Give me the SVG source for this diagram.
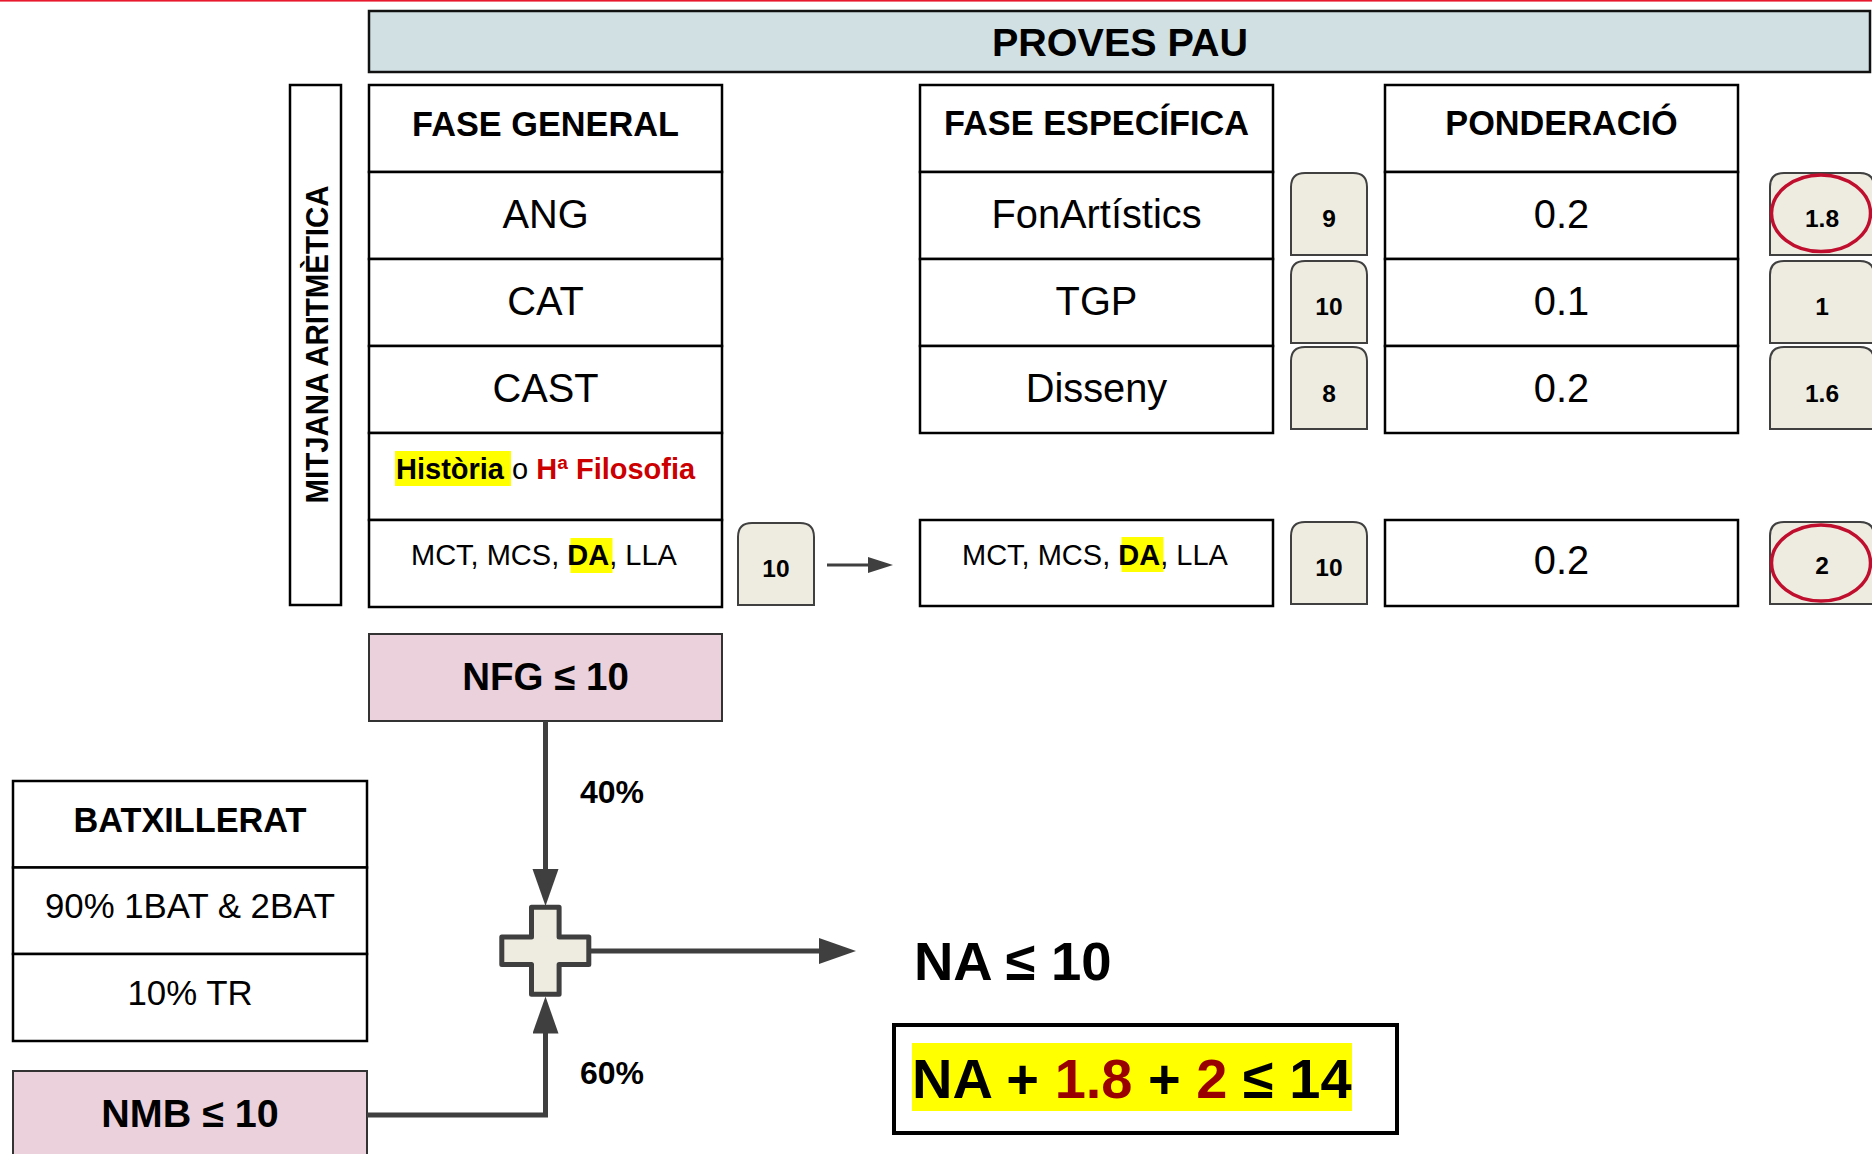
<svg xmlns="http://www.w3.org/2000/svg" xmlns:xlink="http://www.w3.org/1999/xlink" width="1872" height="1154" viewBox="0 0 1872 1154">
<style>
text{font-family:"Liberation Sans",Arial,sans-serif;fill:#000}
.b{font-weight:bold}
.hd{font-size:34.3px;font-weight:bold;text-anchor:middle}
.cell{fill:#fff;stroke:#000;stroke-width:2.5}
.big{font-size:39.8px;text-anchor:middle}
.sm{font-size:29px}
.bt{font-size:24.5px;font-weight:bold;text-anchor:middle}
.badge{fill:#eeece1;stroke:#404040;stroke-width:2}
.ring{fill:none;stroke:#c00f2e;stroke-width:3.5}
.hl{fill:#ffff00}
.pink{fill:#ead1dc;stroke:#333;stroke-width:2}
.conn{fill:none;stroke:#3f3f3f;stroke-width:5}
.red{fill:#cc0000}
.dred{fill:#990000}
</style>
<defs>
<path id="badgeS" d="M0,82 V14 Q0,0 14,0 H62 Q76,0 76,14 V82 Z"/>
<path id="badgeW" d="M0,82 V14 Q0,0 14,0 H90 Q104,0 104,14 V82 Z"/>
<marker id="ahBig" markerUnits="userSpaceOnUse" markerWidth="40" markerHeight="28" refX="7" refY="13" orient="auto">
<path d="M0,0 L37,13 L0,26 Z" fill="#3f3f3f"/>
</marker>
<marker id="ahSmall" markerUnits="userSpaceOnUse" markerWidth="28" markerHeight="18" refX="4" refY="8" orient="auto">
<path d="M0,0 L25,8 L0,16 Z" fill="#3f3f3f"/>
</marker>
</defs>
<rect x="0" y="0" width="1872" height="1154" fill="#fff"/>
<rect x="0" y="0" width="1872" height="1.6" fill="#e8192f"/>

<g id="banner">
<rect x="369" y="11" width="1501" height="61" fill="#d0e0e3" stroke="#111" stroke-width="2.5"/>
<text x="1120" y="56" class="b" font-size="39.5" text-anchor="middle">PROVES PAU</text>
</g>

<g id="mitjana">
<rect x="290" y="85" width="51" height="520" class="cell"/>
<text transform="translate(328,344.5) rotate(-90)" class="b" font-size="32" text-anchor="middle" textLength="318" lengthAdjust="spacingAndGlyphs">MITJANA ARITMÈTICA</text>
</g>

<g id="fase-general">
<rect x="369" y="85" width="353" height="87" class="cell"/>
<rect x="369" y="172" width="353" height="87" class="cell"/>
<rect x="369" y="259" width="353" height="87" class="cell"/>
<rect x="369" y="346" width="353" height="87" class="cell"/>
<rect x="369" y="433" width="353" height="87" class="cell"/>
<rect x="369" y="520" width="353" height="87" class="cell"/>
<text x="545.5" y="136" class="hd">FASE GENERAL</text>
<text x="545.5" y="227.5" class="big">ANG</text>
<text x="545.5" y="314.5" class="big">CAT</text>
<text x="545.5" y="401.5" class="big">CAST</text>
<rect x="395" y="451" width="116" height="35" class="hl"/>
<text x="396" y="478.5" font-size="29"><tspan class="b">Història </tspan><tspan>o </tspan><tspan class="b red">Hª Filosofia</tspan></text>
<rect x="570.5" y="538" width="42" height="35" class="hl"/>
<text x="411" y="565.4" class="sm">MCT, MCS, <tspan class="b">DA</tspan>, LLA</text>
</g>

<g id="badge-general">
<use xlink:href="#badgeS" x="738" y="523" class="badge"/>
<text x="776" y="577" class="bt">10</text>
</g>

<g id="fase-especifica">
<rect x="920" y="85" width="353" height="87" class="cell"/>
<rect x="920" y="172" width="353" height="87" class="cell"/>
<rect x="920" y="259" width="353" height="87" class="cell"/>
<rect x="920" y="346" width="353" height="87" class="cell"/>
<text x="1096.5" y="135" class="hd">FASE ESPECÍFICA</text>
<text x="1096.5" y="227.5" class="big">FonArtístics</text>
<text x="1096.5" y="314.5" class="big">TGP</text>
<text x="1096.5" y="401.5" class="big">Disseny</text>
</g>

<g id="especifica-extra">
<rect x="920" y="520" width="353" height="86" class="cell"/>
<rect x="1121.5" y="537" width="42" height="35" class="hl"/>
<text x="962" y="565.4" class="sm">MCT, MCS, <tspan class="b">DA</tspan>, LLA</text>
</g>

<g id="notes">
<use xlink:href="#badgeS" x="1291" y="173" class="badge"/>
<use xlink:href="#badgeS" x="1291" y="261" class="badge"/>
<use xlink:href="#badgeS" x="1291" y="347" class="badge"/>
<use xlink:href="#badgeS" x="1291" y="522" class="badge"/>
<text x="1329" y="226.5" class="bt">9</text>
<text x="1329" y="314.5" class="bt">10</text>
<text x="1329" y="401.5" class="bt">8</text>
<text x="1329" y="576" class="bt">10</text>
</g>

<g id="ponderacio">
<rect x="1385" y="85" width="353" height="87" class="cell"/>
<rect x="1385" y="172" width="353" height="87" class="cell"/>
<rect x="1385" y="259" width="353" height="87" class="cell"/>
<rect x="1385" y="346" width="353" height="87" class="cell"/>
<rect x="1385" y="520" width="353" height="86" class="cell"/>
<text x="1561.5" y="135" class="hd">PONDERACIÓ</text>
<text x="1561.5" y="227.5" class="big">0.2</text>
<text x="1561.5" y="314.5" class="big">0.1</text>
<text x="1561.5" y="401.5" class="big">0.2</text>
<text x="1561.5" y="574" class="big">0.2</text>
</g>

<g id="resultats">
<use xlink:href="#badgeW" x="1770" y="173" class="badge"/>
<use xlink:href="#badgeW" x="1770" y="261" class="badge"/>
<use xlink:href="#badgeW" x="1770" y="347" class="badge"/>
<use xlink:href="#badgeW" x="1770" y="522" class="badge"/>
<ellipse cx="1821" cy="213.3" rx="49.5" ry="38.3" class="ring"/>
<ellipse cx="1821" cy="563" rx="49.5" ry="38" class="ring"/>
<text x="1822" y="226.5" class="bt">1.8</text>
<text x="1822" y="314.5" class="bt">1</text>
<text x="1822" y="401.5" class="bt">1.6</text>
<text x="1822" y="574" class="bt">2</text>
</g>

<g id="nfg">
<rect x="369" y="634" width="353" height="87" class="pink"/>
<text x="545.5" y="690" class="b" font-size="38.5" text-anchor="middle">NFG ≤ 10</text>
</g>

<g id="batxillerat">
<rect x="13" y="781" width="354" height="86.5" class="cell"/>
<rect x="13" y="867.5" width="354" height="86.5" class="cell"/>
<rect x="13" y="954" width="354" height="87" class="cell"/>
<text x="190" y="831.5" class="hd">BATXILLERAT</text>
<text x="190" y="918" font-size="34.8" text-anchor="middle">90% 1BAT &amp; 2BAT</text>
<text x="190" y="1004.6" font-size="34.8" text-anchor="middle">10% TR</text>
</g>

<g id="nmb">
<rect x="13" y="1071" width="354" height="100" class="pink"/>
<text x="190" y="1126.5" class="b" font-size="39.5" text-anchor="middle">NMB ≤ 10</text>
</g>

<g id="suma">
<path d="M531.5,907.3 H559.1 V937 H588.8 V964.6 H559.1 V994.3 H531.5 V964.6 H501.8 V937 H531.5 Z" fill="#eeece1" stroke="#3f3f3f" stroke-width="5" stroke-linejoin="round"/>
</g>

<g id="na">
<text x="914" y="980" class="b" font-size="54.5">NA ≤ 10</text>
</g>

<g id="formula">
<rect x="894" y="1025" width="503" height="108" fill="#fff" stroke="#000" stroke-width="4"/>
<rect x="912" y="1043" width="440" height="68" class="hl"/>
<text x="912" y="1097.5" class="b" font-size="56">NA + <tspan class="dred">1.8</tspan> + <tspan class="dred">2</tspan> ≤ 14</text>
</g>

<g id="connectors">
<line x1="827" y1="565" x2="872" y2="565" stroke="#3f3f3f" stroke-width="3" marker-end="url(#ahSmall)"/>
<line x1="545.5" y1="721" x2="545.5" y2="876" class="conn" marker-end="url(#ahBig)"/>
<polyline points="367,1115 545.5,1115 545.5,1026.5" class="conn" marker-end="url(#ahBig)"/>
<line x1="591" y1="951" x2="826" y2="951" class="conn" marker-end="url(#ahBig)"/>
<text x="580" y="803" class="b" font-size="32">40%</text>
<text x="580" y="1084" class="b" font-size="32">60%</text>
</g>
</svg>
